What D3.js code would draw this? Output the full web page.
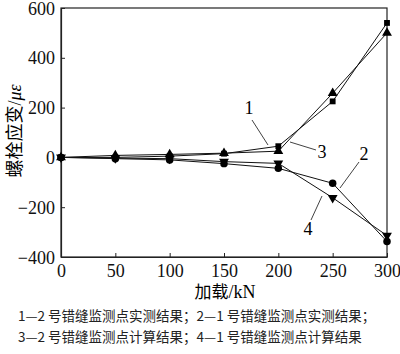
<!DOCTYPE html>
<html>
<head>
<meta charset="utf-8">
<script src="https://cdn.jsdelivr.net/npm/d3@7"></script>
<style>
  body { margin: 0; background: #fff; }
</style>
</head>
<body>
<div id="chart"></div>
<script>
// loads in kN
const loads = [0, 50, 100, 150, 200, 250, 300];
// 1: 2号 measured, 2: 1号 measured, 3: 2号 calc, 4: 1号 calc
const s1 = [0, 0, 5, 15, 45, 225, 540];
const s2 = [0, -5, -10, -25, -44, -104, -338];
const s3 = [0, 8, 12, 17, 25, 258, 500];
const s4 = [0, -3, -5, -17, -24, -162, -314];
const xTicks = [0, 50, 100, 150, 200, 250, 300];
const yTicks = [-400, -200, 0, 200, 400, 600];
const caption = ["1—2 号错缝监测点实测结果；2—1 号错缝监测点实测结果；",
                 "3—2 号错缝监测点计算结果；4—1 号错缝监测点计算结果"];

const serif = "'Liberation Serif', 'Times New Roman', 'DejaVu Serif', serif";
const cjk = "'Noto Sans CJK SC', sans-serif";

const width = 400, height = 354;
const margins = {top: 8, right: 13, bottom: 97, left: 61};

const svg = d3.select("#chart").append("svg")
    .attr("width", width).attr("height", height);

const xScale = d3.scaleLinear().domain([0, 300]).range([margins.left, width - margins.right]);
const yScale = d3.scaleLinear().domain([-400, 600]).range([height - margins.bottom, margins.top]);

// box
svg.append("rect")
    .attr("x", margins.left).attr("y", margins.top)
    .attr("width", xScale(300) - xScale(0))
    .attr("height", yScale(-400) - yScale(600))
    .attr("fill", "none").attr("stroke", "#222").attr("stroke-width", 1.2);

const xAxis = d3.axisBottom(xScale).tickValues(xTicks).tickSizeInner(-4).tickSizeOuter(0).tickPadding(7);
const yAxis = d3.axisLeft(yScale).tickValues(yTicks).tickSizeInner(-4).tickSizeOuter(0).tickPadding(6)
    .tickFormat(d => d < 0 ? "\u2212" + Math.abs(d) : d);

const xGroup = svg.append("g")
    .attr("transform", `translate(0,${yScale(-400)})`)
    .call(xAxis);
const yGroup = svg.append("g")
    .attr("transform", `translate(${margins.left},0)`)
    .call(yAxis);
[xGroup, yGroup].forEach(g => {
    g.attr("font-family", null).attr("font-size", null);
    g.select(".domain").attr("stroke", "#222").attr("stroke-width", 1.2);
    g.selectAll("line").attr("stroke", "#222");
    g.selectAll("text").attr("fill", "#111")
        .attr("font-size", 18).attr("font-family", serif);
});
yGroup.selectAll("text").attr("dy", "0.34em");

const line = d3.line().x((d, i) => xScale(loads[i])).y(d => yScale(d));
const series = [
    {vals: s1, sym: d3.symbolSquare, size: 34, rot: 0},
    {vals: s3, sym: d3.symbolTriangle, size: 42, rot: 0},
    {vals: s2, sym: d3.symbolCircle, size: 44, rot: 0},
    {vals: s4, sym: d3.symbolTriangle, size: 42, rot: 180}
];
series.forEach(s => {
    svg.append("path").attr("d", line(s.vals))
        .attr("fill", "none").attr("stroke", "#111").attr("stroke-width", 1);
    svg.append("g").selectAll("path")
        .data(s.vals).enter().append("path")
        .attr("d", d3.symbol().type(s.sym).size(s.size))
        .attr("transform", (d, i) => `translate(${xScale(loads[i])},${yScale(d)}) rotate(${s.rot})`)
        .attr("fill", "#000");
});

// leader labels
const labels = [
    {t: "1", x: 249, y: 114, l: [252, 120, 268, 145]},
    {t: "3", x: 322, y: 158, l: [316, 150, 290, 142]},
    {t: "2", x: 364, y: 160, l: [359, 162, 340, 188]},
    {t: "4", x: 308, y: 235, l: [311, 220, 322, 196]}
];
labels.forEach(d => {
    svg.append("line")
        .attr("x1", d.l[0]).attr("y1", d.l[1]).attr("x2", d.l[2]).attr("y2", d.l[3])
        .attr("stroke", "#111").attr("stroke-width", 0.8);
    svg.append("text").attr("x", d.x).attr("y", d.y)
        .attr("text-anchor", "middle")
        .attr("font-size", 18).attr("font-family", serif)
        .text(d.t);
});

// axis titles
const xl = svg.append("text")
    .attr("x", 225).attr("y", 298)
    .attr("text-anchor", "middle")
    .attr("font-size", 17).attr("font-family", cjk);
xl.append("tspan").text("加载");
xl.append("tspan").attr("font-family", serif).attr("font-size", 18).text("/kN");

const yl = svg.append("text")
    .attr("transform", `translate(21,131) rotate(-90)`)
    .attr("text-anchor", "middle")
    .attr("font-size", 18).attr("font-family", cjk);
yl.append("tspan").text("螺栓应变");
yl.append("tspan").attr("font-family", serif).text("/");
yl.append("tspan").attr("font-style", "italic").attr("font-family", serif).text("με");

// caption
svg.append("g").selectAll("text")
    .data(caption).enter().append("text")
    .attr("x", 18).attr("y", (d, i) => 321 + i * 21)
    .attr("font-size", 13.5).attr("font-family", cjk)
    .attr("fill", "#222")
    .text(d => d);
</script>
</body>
</html>
